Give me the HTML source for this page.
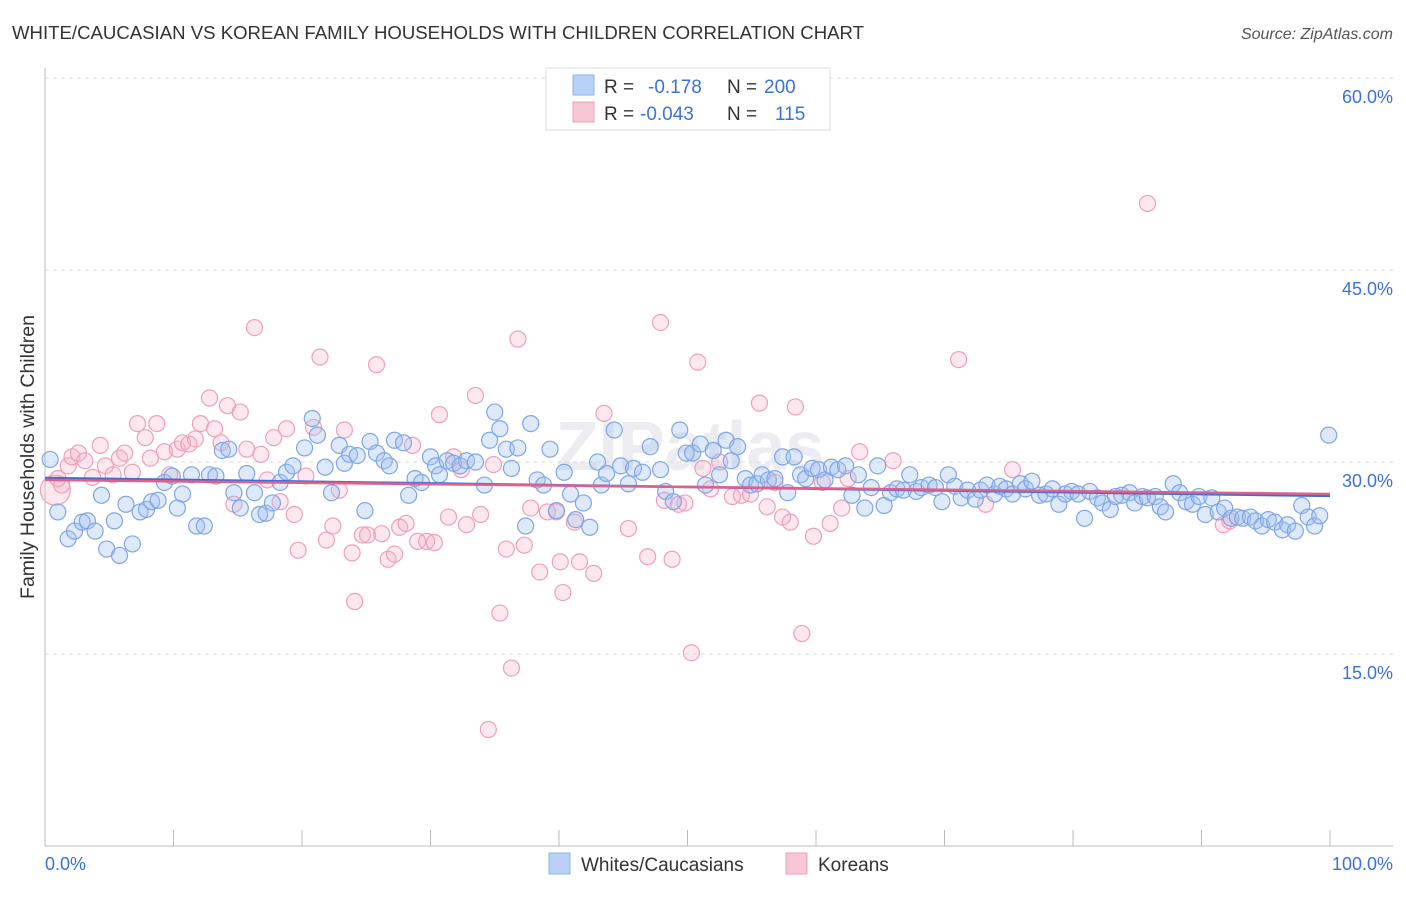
<!DOCTYPE html>
<html><head><meta charset="utf-8"><style>
body{margin:0;background:#fff;font-family:"Liberation Sans",sans-serif;}
svg text{font-family:"Liberation Sans",sans-serif;}
</style></head><body>
<svg id="chart" width="1406" height="892" xmlns="http://www.w3.org/2000/svg">
<text x="12" y="39" font-size="18.6" fill="#333">WHITE/CAUCASIAN VS KOREAN FAMILY HOUSEHOLDS WITH CHILDREN CORRELATION CHART</text>
<text x="1393" y="39" font-size="16" fill="#555" font-style="italic" text-anchor="end">Source: ZipAtlas.com</text>
<text x="34" y="457" font-size="19.5" fill="#333" text-anchor="middle" transform="rotate(-90 34 457)">Family Households with Children</text>
<text x="690" y="470" font-size="70" fill="#ececf1" text-anchor="middle" font-weight="bold">ZIPatlas</text>
<g id="grid"></g><g id="pts"></g><g id="lines"></g>
<g>
<rect x="546" y="68" width="284" height="62" fill="#fff" stroke="#ddd"/>
<rect x="573" y="75" width="21" height="20" fill="#b9d1f6" stroke="#8fb2ea"/>
<rect x="573" y="102" width="21" height="20" fill="#f8c7d5" stroke="#ef9fb8"/>
<text x="604" y="93" font-size="19" fill="#333">R =</text>
<text x="648" y="93" font-size="19" fill="#3b72d6">-0.178</text>
<text x="727" y="93" font-size="19" fill="#333">N =</text>
<text x="764" y="93" font-size="19" fill="#3b72d6">200</text>
<text x="604" y="120" font-size="19" fill="#333">R =</text>
<text x="640" y="120" font-size="19" fill="#3b72d6">-0.043</text>
<text x="727" y="120" font-size="19" fill="#333">N =</text>
<text x="775" y="120" font-size="19" fill="#3b72d6">115</text>
</g>
<g>
<rect x="549" y="853" width="21" height="21" fill="#b9d1f6" stroke="#8fb2ea"/>
<text x="581" y="871" font-size="19" fill="#333">Whites/Caucasians</text>
<rect x="786" y="853" width="21" height="21" fill="#f8c7d5" stroke="#ef9fb8"/>
<text x="818" y="871" font-size="19" fill="#333">Koreans</text>
</g>
</svg>
<script>
const yTicks=[15,30,45,60];
const yTickLabels=["15.0%","30.0%","45.0%","60.0%"];
const xTickLabels=["0.0%","100.0%"];
const blueX=[0.4,1.0,1.8,2.3,2.9,3.3,3.9,4.4,4.8,5.4,5.8,6.3,6.8,7.4,7.9,8.3,8.8,9.3,9.9,10.3,10.7,11.4,11.8,12.4,12.8,13.3,13.8,14.3,14.7,15.2,15.7,16.3,16.7,17.2,17.7,18.3,18.8,19.3,20.2,20.8,21.2,21.8,22.3,22.9,23.3,23.7,24.3,24.9,25.3,25.8,26.4,26.8,27.2,27.9,28.3,28.8,29.3,30.0,30.4,30.7,31.3,31.8,32.3,32.8,33.5,34.2,34.6,35.0,35.4,35.9,36.3,36.8,37.4,37.8,38.3,38.8,39.3,39.8,40.4,40.9,41.3,41.9,42.4,43.0,43.3,43.7,44.3,44.8,45.4,45.8,46.5,47.1,47.9,48.3,48.9,49.4,49.9,50.4,51.0,51.4,52.0,52.5,53.0,53.4,53.9,54.5,54.9,55.4,55.8,56.3,56.8,57.4,57.8,58.3,58.8,59.2,59.7,60.2,60.7,61.2,61.7,62.3,62.8,63.3,63.8,64.3,64.8,65.3,65.8,66.3,66.8,67.3,67.8,68.2,68.8,69.3,69.8,70.3,70.8,71.3,71.8,72.4,72.8,73.3,73.9,74.3,74.8,75.3,75.9,76.3,76.8,77.4,77.9,78.4,78.9,79.4,79.9,80.4,80.9,81.3,81.9,82.3,82.9,83.3,83.8,84.4,84.8,85.4,85.8,86.4,86.8,87.2,87.8,88.3,88.8,89.3,89.8,90.3,90.8,91.3,91.8,92.3,92.8,93.2,93.8,94.2,94.7,95.2,95.7,96.3,96.7,97.3,97.8,98.3,98.8,99.2,99.9];
const blueY=[30.2,26.1,24.0,24.6,25.3,25.4,24.6,27.4,23.2,25.4,22.7,26.7,23.6,26.1,26.3,26.9,27.0,28.4,28.9,26.4,27.5,29.0,25.0,25.0,29.0,28.9,30.9,31.0,27.6,26.4,29.1,27.6,25.9,26.0,26.8,28.4,29.2,29.7,31.1,33.4,32.1,29.6,27.6,31.3,29.9,30.6,30.5,26.2,31.6,30.7,30.1,29.7,31.7,31.5,27.4,28.7,28.4,30.4,29.7,29.0,30.1,29.9,29.7,30.1,30.0,28.2,31.7,33.9,32.6,31.0,29.5,31.1,25.0,33.0,28.6,28.2,31.0,26.2,29.2,27.5,25.5,26.8,24.9,30.0,28.2,29.1,32.5,29.7,28.3,29.5,29.2,31.2,29.4,27.7,26.9,32.5,30.7,30.7,31.4,28.2,30.9,29.0,31.7,30.1,31.2,28.7,28.2,28.3,29.0,28.6,28.7,30.4,27.6,30.4,29.0,28.7,29.5,29.4,28.6,29.6,29.4,29.7,27.4,29.0,26.4,28.0,29.7,26.6,27.6,27.9,27.8,29.0,27.7,28.0,28.2,28.0,26.9,29.0,28.1,27.2,27.8,27.1,27.8,28.2,27.5,28.1,27.9,27.5,28.3,27.9,28.5,27.4,27.5,27.9,26.7,27.5,27.7,27.5,25.6,27.7,27.2,26.8,26.3,27.3,27.4,27.6,26.8,27.3,27.2,27.3,26.5,26.1,28.3,27.6,26.9,26.7,27.3,25.9,27.2,26.1,26.4,25.6,25.7,25.6,25.7,25.4,25.0,25.5,25.3,24.7,25.1,24.6,26.6,25.7,25.0,25.8,32.1];
const pinkX=[0.8,1.0,1.3,1.8,2.1,2.6,3.1,3.7,4.3,4.7,5.3,5.8,6.2,6.8,7.2,7.8,8.2,8.7,9.3,9.7,10.3,10.7,11.2,11.7,12.1,12.8,13.2,13.7,14.2,14.7,15.2,15.7,16.3,16.8,17.3,17.8,18.3,18.8,19.4,19.7,20.3,20.9,21.4,21.9,22.4,22.9,23.3,23.9,24.1,24.7,25.1,25.8,26.2,26.7,27.2,27.6,28.1,28.6,29.0,29.7,30.3,30.7,31.4,31.8,32.4,32.8,33.5,33.9,34.5,34.9,35.4,35.9,36.3,36.8,37.3,37.8,38.5,39.1,39.8,40.3,40.1,41.2,41.6,42.7,43.5,45.4,46.9,47.9,48.2,48.8,49.3,49.8,50.3,50.8,51.2,51.8,52.5,53.5,54.2,54.9,55.6,56.2,56.8,57.4,58.0,58.4,58.9,59.8,60.5,61.1,62.0,62.5,63.4,66.0,71.1,73.2,75.3,85.8,91.7,92.2];
const pinkY=[27.8,28.7,28.2,29.7,30.4,30.7,30.1,28.8,31.3,29.7,29.0,30.3,30.7,29.2,33.0,31.9,30.3,33.0,30.8,29.0,31.0,31.5,31.4,31.8,33.0,35.0,32.6,31.5,34.4,26.7,33.9,31.0,40.5,30.6,28.6,31.9,26.9,32.6,25.9,23.1,28.9,32.7,38.2,23.9,25.0,27.8,32.5,22.9,19.1,24.3,24.3,37.6,24.4,22.4,22.8,24.9,25.2,31.3,23.8,23.8,23.7,33.7,25.7,30.4,29.4,25.1,35.2,25.9,9.1,29.8,18.2,23.2,13.9,39.6,23.5,26.4,21.4,26.1,26.1,19.8,22.2,25.3,22.2,21.3,33.8,24.8,22.6,40.9,27.0,22.4,26.7,26.8,15.1,37.8,29.5,27.9,30.0,27.3,27.4,27.5,34.6,26.5,28.4,25.7,25.3,34.3,16.6,24.2,28.4,25.2,26.4,28.7,30.8,30.1,38.0,26.7,29.4,50.2,25.1,25.4];
const blueTrend=[28.75,27.35];
const pinkTrend=[28.6,27.5];
const NS="http://www.w3.org/2000/svg";
const X0=45,X1=1330,Y0=846,PXPER=12.8;
const xs=v=>X0+v/100*(X1-X0);
const ys=v=>Y0-v*PXPER;
function mk(tag,attrs,parent){const e=document.createElementNS(NS,tag);for(const k in attrs)e.setAttribute(k,attrs[k]);parent.appendChild(e);return e;}
const grid=document.getElementById('grid');
yTicks.forEach((t,i)=>{
  const l=mk('line',{x1:X0,x2:1393,y1:ys(t),y2:ys(t),stroke:'#ddd','stroke-dasharray':'4,4'},grid);
  
  
  const tx=mk('text',{x:1393,y:ys(t)+25,'font-size':18,fill:'#3b72d6','text-anchor':'end'},grid);
  tx.textContent=yTickLabels[i];
  
  
});
const ax=mk('line',{x1:X0,x2:1393,y1:Y0,y2:Y0,stroke:'#bbb'},grid);


const ay=mk('line',{x1:X0,x2:X0,y1:68,y2:Y0,stroke:'#bbb'},grid);


for(let i=0;i<=10;i++){
  const t=mk('line',{x1:xs(i*10),x2:xs(i*10),y1:Y0-16,y2:Y0,stroke:'#bbb'},grid);
  
  
}
const xl0=mk('text',{x:45,y:870,'font-size':18,fill:'#3b72d6'},grid);xl0.textContent=xTickLabels[0];


const xl1=mk('text',{x:1393,y:870,'font-size':18,fill:'#3b72d6','text-anchor':'end'},grid);xl1.textContent=xTickLabels[1];


const pts=document.getElementById('pts');
const n1=Math.min(pinkX.length,pinkY.length);
for(let i=0;i<n1;i++){
  const c=mk('circle',{cx:xs(pinkX[i]),cy:ys(pinkY[i]),r:i===0?15:8,fill:'rgba(246,180,200,0.3)',stroke:'#efa0b8','stroke-width':1.2},pts);
  
  
}
const n2=Math.min(blueX.length,blueY.length);
for(let i=0;i<n2;i++){
  const c=mk('circle',{cx:xs(blueX[i]),cy:ys(blueY[i]),r:8,fill:'rgba(160,192,242,0.35)',stroke:'#7fa6e6','stroke-width':1.2},pts);
  
  
}
const lines=document.getElementById('lines');
const bl=mk('line',{x1:xs(0),x2:xs(100),y1:ys(blueTrend[0]),y2:ys(blueTrend[1]),stroke:'#3a6fd8','stroke-width':2.5},lines);


const pl=mk('line',{x1:xs(0),x2:xs(100),y1:ys(pinkTrend[0]),y2:ys(pinkTrend[1]),stroke:'#e0608a','stroke-width':2.5},lines);


</script>
</body></html>
